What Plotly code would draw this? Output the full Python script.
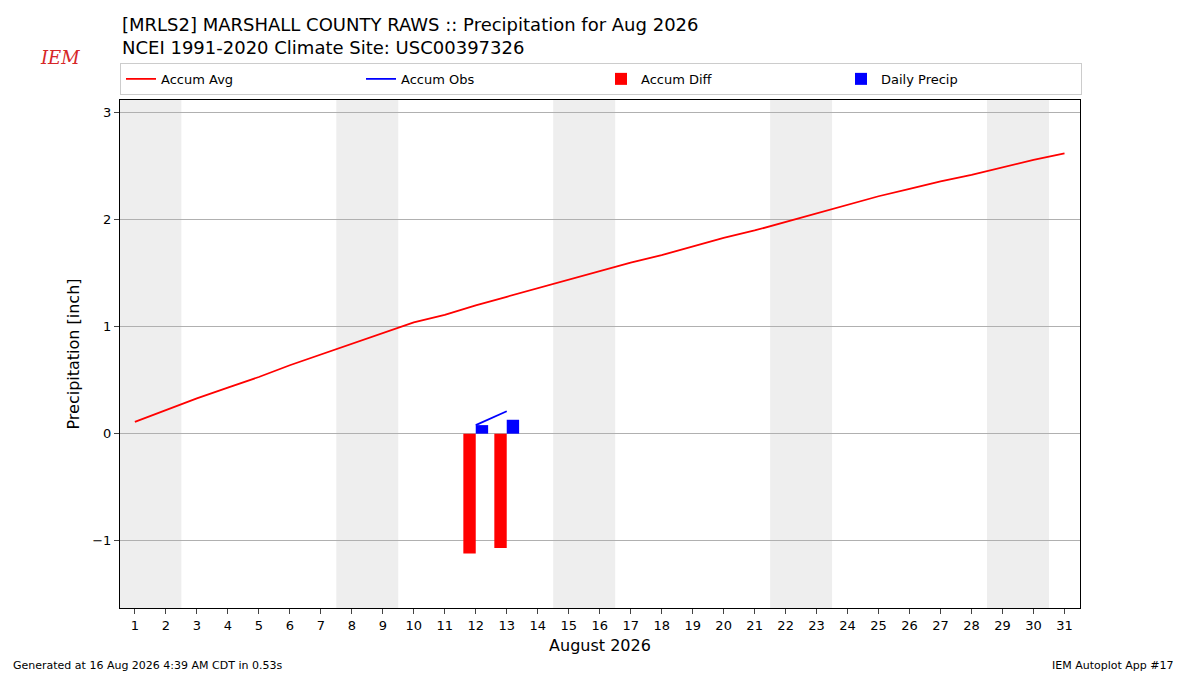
import plotly.graph_objects as go

days = list(range(1, 32))
accum_avg = [0.11, 0.22, 0.33, 0.43, 0.53, 0.64, 0.74, 0.84, 0.94, 1.04, 1.11, 1.20, 1.28, 1.36, 1.44, 1.52, 1.60, 1.67, 1.75, 1.83, 1.90, 1.98, 2.06, 2.14, 2.22, 2.29, 2.36, 2.42, 2.49, 2.56, 2.62]
obs_days = [12, 13]
accum_obs = [0.08, 0.21]
daily_precip = [0.08, 0.13]
accum_diff = [-1.12, -1.07]
weekends = [(0.5, 2.5), (7.5, 9.5), (14.5, 16.5), (21.5, 23.5), (28.5, 30.5)]

fig = go.Figure()
fig.add_trace(go.Scatter(x=days, y=accum_avg, mode="lines", name="Accum Avg",
                         line=dict(color="red", width=1.8)))
fig.add_trace(go.Scatter(x=obs_days, y=accum_obs, mode="lines", name="Accum Obs",
                         line=dict(color="blue", width=1.8)))
fig.add_trace(go.Bar(x=obs_days, y=accum_diff, name="Accum Diff", marker_color="red",
                     width=0.4, offset=-0.4, marker_line_width=0))
fig.add_trace(go.Bar(x=obs_days, y=daily_precip, name="Daily Precip", marker_color="blue",
                     width=0.4, offset=0, marker_line_width=0))

for a, b in weekends:
    fig.add_vrect(x0=a, x1=b, fillcolor="#eeeeee", line_width=0, layer="below")

fig.update_layout(
    width=1200, height=675, plot_bgcolor="white", paper_bgcolor="white",
    margin=dict(l=112, r=128, t=92, b=75, autoexpand=False),
    font=dict(family="DejaVu Sans", size=13, color="black"),
    showlegend=True, barmode="overlay",
    legend=dict(orientation="h", x=0, y=1.01, xanchor="left", yanchor="bottom",
                bordercolor="#cccccc", borderwidth=1, entrywidth=195, entrywidthmode="pixels",
                font=dict(size=13), tracegroupgap=0),
    xaxis=dict(range=[0.52, 31.5], tickvals=days, showgrid=False, showline=True, mirror=True,
               linecolor="black", ticks="outside", automargin=False,
               title=dict(text="August 2026", font=dict(size=16), standoff=8)),
    yaxis=dict(range=[-1.63, 3.12], tickvals=[-1, 0, 1, 2, 3], ticktext=["\u22121", "0", "1", "2", "3"],
               showgrid=True, gridcolor="#b0b0b0", zeroline=False, showline=True, mirror=True,
               linecolor="black", ticks="outside", automargin=False,
               title=dict(text="Precipitation [inch]", font=dict(size=16), standoff=8)),
)
fig.add_annotation(xref="paper", yref="paper", x=0, y=1.0, xanchor="left", yanchor="bottom",
                   yshift=40, align="left", showarrow=False, font=dict(size=18),
                   text="[MRLS2] MARSHALL COUNTY RAWS :: Precipitation for Aug 2026<br>NCEI 1991-2020 Climate Site: USC00397326")
fig.add_annotation(xref="paper", yref="paper", x=-0.085, y=1.0, yshift=55, showarrow=False,
                   text="<i>IEM</i>", font=dict(size=18, color="#d62728", family="DejaVu Serif"))
fig.add_annotation(xref="paper", yref="paper", x=-0.114, y=-0.13, xanchor="left", showarrow=False,
                   text="Generated at 16 Aug 2026 4:39 AM CDT in 0.53s", font=dict(size=11))
fig.add_annotation(xref="paper", yref="paper", x=1.1, y=-0.13, xanchor="right", showarrow=False,
                   text="IEM Autoplot App #17", font=dict(size=11))

fig.write_html("out.html")
